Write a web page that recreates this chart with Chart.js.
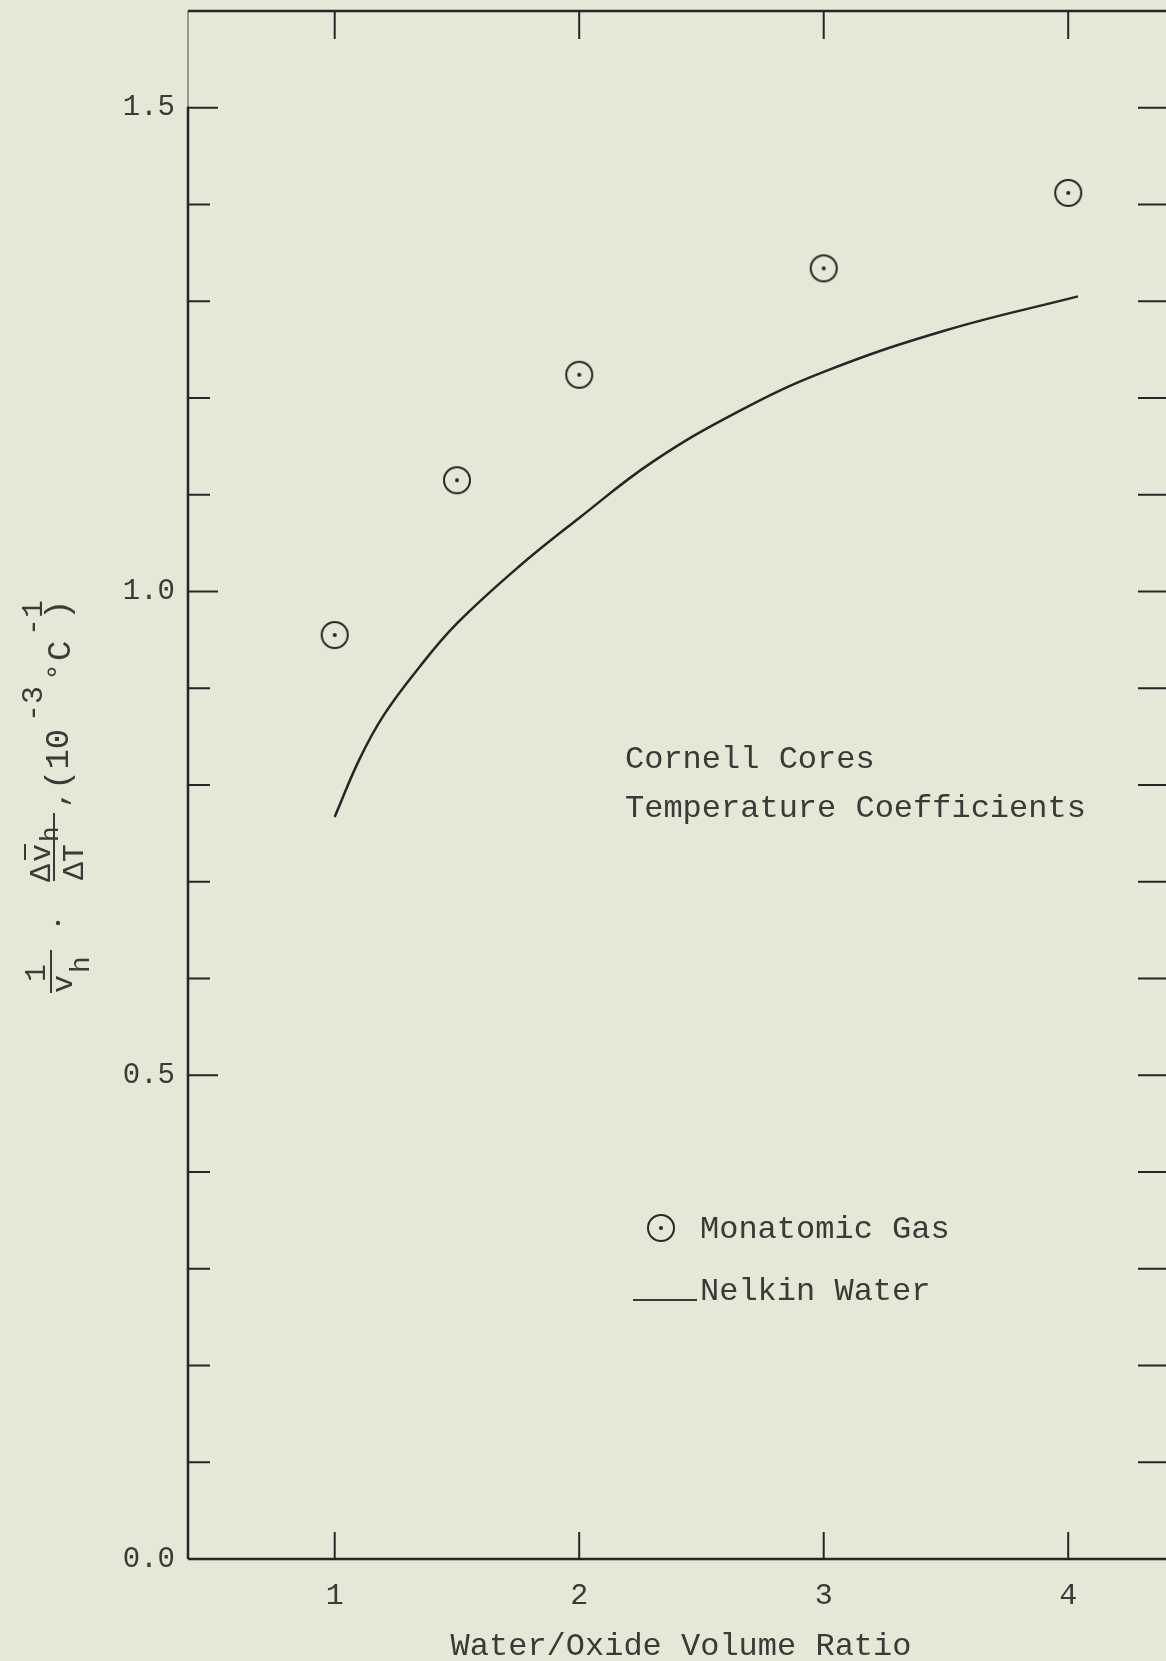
<!DOCTYPE html>
<html>
<head>
<meta charset="utf-8">
<script src="https://cdn.jsdelivr.net/npm/chart.js@4.4.0/dist/chart.umd.min.js"></script>
<style>
    html, body { margin: 0; padding: 0; background: #e6e7d6; }
    #wrap { width: 1166px; height: 1661px; position: relative; }
</style>
</head>
<body>
<div id="wrap"><canvas id="mainChart"></canvas></div>
<script>
// ─── data ───
const gasRatio = [1, 1.5, 2, 3, 4];
const gasCoef = [0.955, 1.115, 1.224, 1.334, 1.412];

const nelkinRatio = [1.0, 1.1, 1.2, 1.35, 1.5, 1.75, 2.0, 2.3, 2.65, 3.0, 3.5, 4.04];
const nelkinCoef = [0.767, 0.826, 0.872, 0.923, 0.967, 1.025, 1.076, 1.134, 1.186, 1.227, 1.270, 1.305];

const xTicks = [1, 2, 3, 4];
const yTicks = [0.0, 0.1, 0.2, 0.3, 0.4, 0.5, 0.6, 0.7, 0.8, 0.9, 1.0, 1.1, 1.2, 1.3, 1.4, 1.5];
const yLabelled = [0.0, 0.5, 1.0, 1.5];

const legendLabels = ['Monatomic Gas', 'Nelkin Water'];
const noteLines = ['Cornell Cores', 'Temperature Coefficients'];
const xTitle = 'Water/Oxide Volume Ratio';

const INK = '#262624';
const TEXT = '#3a3a36';
const PAPER = '#e6e7d6';
const FONT = "'Liberation Mono', 'DejaVu Sans Mono', monospace";

function isLabelled(v) {
    return yLabelled.some(l => Math.abs(l - v) < 1e-6);
}

// 동그라미 + 가운데 점 마커
function makeMarker(r) {
    const c = document.createElement('canvas');
    const s = r * 2 + 4;
    c.width = s;
    c.height = s;
    const g = c.getContext('2d');
    g.strokeStyle = INK;
    g.lineWidth = 2;
    g.beginPath();
    g.arc(s / 2, s / 2, r, 0, Math.PI * 2);
    g.stroke();
    g.fillStyle = INK;
    g.beginPath();
    g.arc(s / 2, s / 2, 2, 0, Math.PI * 2);
    g.fill();
    return c;
}
const marker = makeMarker(13);

function line(ctx, x1, y1, x2, y2) {
    ctx.beginPath();
    ctx.moveTo(x1, y1);
    ctx.lineTo(x2, y2);
    ctx.stroke();
}

// rotated text: (bx, sy) = baseline x, start y on the page
function rotText(ctx, text, bx, sy, size) {
    ctx.save();
    ctx.translate(bx, sy);
    ctx.rotate(-Math.PI / 2);
    ctx.font = size + 'px ' + FONT;
    ctx.textAlign = 'left';
    ctx.textBaseline = 'alphabetic';
    ctx.fillText(text, 0, 0);
    ctx.restore();
}

function drawYTitle(ctx) {
    ctx.fillStyle = TEXT;
    ctx.strokeStyle = TEXT;
    ctx.lineWidth = 2;
    // 1 / v_h
    rotText(ctx, '1', 45, 982, 30);
    line(ctx, 51, 950, 51, 993);
    rotText(ctx, 'v', 72, 993, 30);
    rotText(ctx, 'h', 89, 973, 28);
    // dot
    ctx.beginPath();
    ctx.arc(58, 923, 2.2, 0, Math.PI * 2);
    ctx.fill();
    // Δv̄_h / ΔT
    rotText(ctx, 'Δ', 50, 882, 30);
    rotText(ctx, 'v', 50, 862, 30);
    line(ctx, 25, 860, 25, 844);
    rotText(ctx, 'h', 58, 842, 26);
    line(ctx, 54, 813, 54, 881);
    rotText(ctx, 'ΔT', 83, 880, 30);
    rotText(ctx, ',', 66, 808, 30);
    // (10^-3 °C^-1)
    rotText(ctx, '(10', 68, 790, 34);
    rotText(ctx, '-3', 42, 722, 30);
    rotText(ctx, '°', 68, 681, 30);
    rotText(ctx, 'C', 70, 661, 34);
    rotText(ctx, '-1', 42, 636, 30);
    rotText(ctx, ')', 68, 620, 34);
}

const paperPlugin = {
    id: 'paper',
    beforeDraw(chart) {
        const ctx = chart.ctx;
        ctx.save();
        ctx.fillStyle = PAPER;
        ctx.fillRect(0, 0, chart.width, chart.height);
        ctx.restore();
    },
    afterDraw(chart) {
        const ctx = chart.ctx;
        const a = chart.chartArea;
        const xs = chart.scales.x;
        const ys = chart.scales.y;
        ctx.save();
        ctx.strokeStyle = INK;
        ctx.lineCap = 'butt';

        // frame
        ctx.lineWidth = 2.5;
        line(ctx, a.left, a.bottom, a.right, a.bottom);
        line(ctx, a.left, a.top, a.right, a.top);
        line(ctx, a.left, ys.getPixelForValue(1.5) - 1, a.left, a.bottom);
        ctx.globalAlpha = 0.55;
        ctx.lineWidth = 1.5;
        line(ctx, a.left, a.top, a.left, ys.getPixelForValue(1.5));
        ctx.globalAlpha = 1;

        // inward ticks
        ctx.lineWidth = 2;
        xs.ticks.forEach(t => {
            const px = xs.getPixelForValue(t.value);
            line(ctx, px, a.bottom, px, a.bottom - 27);
            line(ctx, px, a.top, px, a.top + 28);
        });
        ys.ticks.forEach(t => {
            if (t.value <= 0) return;
            const py = ys.getPixelForValue(t.value);
            const len = isLabelled(t.value) ? 30 : 22;
            line(ctx, a.left, py, a.left + len, py);
            line(ctx, a.right, py, a.right - 28, py);
        });

        // note text
        ctx.fillStyle = TEXT;
        ctx.font = '32px ' + FONT;
        ctx.textAlign = 'left';
        ctx.textBaseline = 'alphabetic';
        ctx.fillText(noteLines[0], 625, 768);
        ctx.fillText(noteLines[1], 625, 817);

        // legend
        ctx.drawImage(marker, 661 - marker.width / 2, 1228 - marker.height / 2);
        ctx.fillText(legendLabels[0], 700, 1238);
        ctx.lineWidth = 2;
        ctx.strokeStyle = TEXT;
        line(ctx, 633, 1300, 697, 1300);
        ctx.fillText(legendLabels[1], 700, 1300);

        // x title
        ctx.font = '32px ' + FONT;
        ctx.textAlign = 'center';
        ctx.fillText(xTitle, 681, 1655);

        drawYTitle(ctx);
        ctx.restore();
    }
};

function noPad(s) {
    s.paddingTop = 0;
    s.paddingBottom = 0;
    s.paddingLeft = 0;
    s.paddingRight = 0;
}

const canvas = document.getElementById('mainChart');
const chart = new Chart(canvas.getContext('2d'), {
    type: 'scatter',
    data: {
        datasets: [
            {
                label: legendLabels[0],
                data: gasRatio.map((x, i) => ({ x, y: gasCoef[i] })),
                pointStyle: marker,
                pointRadius: 14,
                showLine: false,
            },
            {
                label: legendLabels[1],
                data: nelkinRatio.map((x, i) => ({ x, y: nelkinCoef[i] })),
                showLine: true,
                borderColor: INK,
                borderWidth: 2.5,
                pointRadius: 0,
                tension: 0.4,
                fill: false,
            },
        ],
    },
    options: {
        responsive: true,
        maintainAspectRatio: false,
        animation: false,
        layout: { autoPadding: false, padding: { top: 11, right: 0, left: 0, bottom: 0 } },
        plugins: {
            legend: { display: false },
            tooltip: { enabled: false },
        },
        scales: {
            x: {
                type: 'linear',
                min: 0.4,
                max: 4.4,
                grid: { display: false, drawTicks: false },
                border: { display: false },
                afterBuildTicks: (s) => { s.ticks = xTicks.map(v => ({ value: v })); },
                afterFit: (s) => { s.height = 102; noPad(s); },
                ticks: {
                    autoSkip: false,
                    maxRotation: 0,
                    padding: 19,
                    color: TEXT,
                    font: { family: FONT, size: 30 },
                    callback: (v) => String(v),
                },
            },
            y: {
                type: 'linear',
                min: 0,
                max: 1.6,
                grid: { display: false, drawTicks: false },
                border: { display: false },
                afterBuildTicks: (s) => { s.ticks = yTicks.map(v => ({ value: v })); },
                afterFit: (s) => { s.width = 188; noPad(s); },
                ticks: {
                    autoSkip: false,
                    padding: 13,
                    color: TEXT,
                    font: { family: FONT, size: 29 },
                    callback: (v) => isLabelled(v) ? v.toFixed(1) : '',
                },
            },
        },
    },
    plugins: [paperPlugin],
});
</script>
</body>
</html>
